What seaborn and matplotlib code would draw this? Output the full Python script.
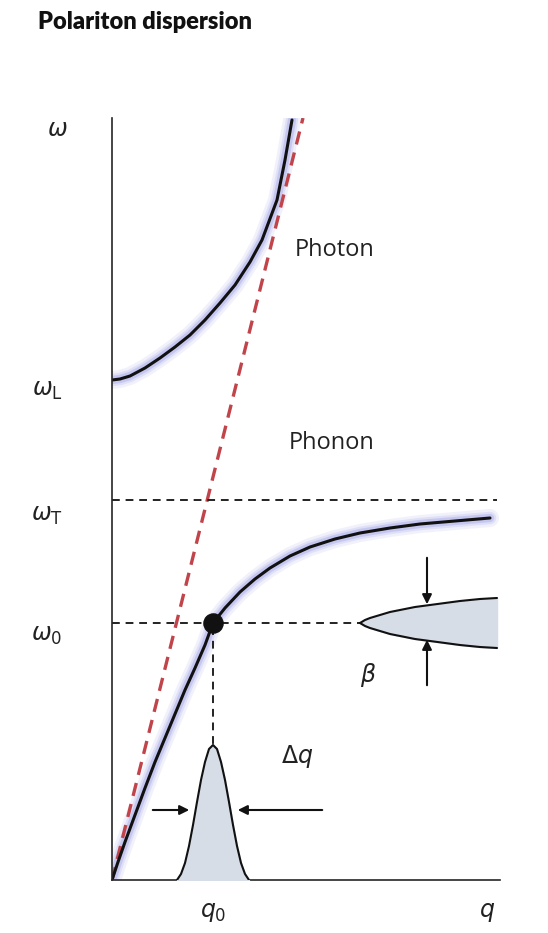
import matplotlib
matplotlib.use("Agg")
import matplotlib.pyplot as plt
import numpy as np
import pandas as pd
import seaborn as sns

sns.set_style("white")
plt.rcParams['font.family'] = ['Open Sans', 'DejaVu Sans']
plt.rcParams['mathtext.fontset'] = 'dejavusans'

# data (x = q, y = omega, arbitrary units)
upper_q = [0, 8, 18, 33, 48, 63, 78, 93, 108, 123, 138, 150, 165, 173, 180]
upper_w = [500, 501, 504, 512, 522, 533, 545, 560, 577, 595, 618, 640, 680, 720, 760]
lower_q = [0, 6, 13, 23, 33, 43, 53, 63, 73, 83, 93, 101, 113, 128, 143, 158,
           178, 198, 223, 248, 278, 308, 343, 378]
lower_w = [0, 18, 38, 65, 92, 118, 142, 166, 190, 212, 235, 257, 272, 288, 301, 312,
           324, 333, 341, 347, 352, 356, 359, 362]
photon_q = [0, 191]
photon_w = [0, 762]
w_L, w_T, w_0, q_0 = 500, 380, 257, 101
# wavepacket in q (offset from q0, height)
dq_off = [-36, -32, -28, -24, -20, -16, -12, -8, -4, 0, 4, 8, 12, 16, 20, 24, 28, 32, 36]
dq_h = [0, 6, 17, 34, 55, 78, 100, 118, 131, 135, 131, 118, 100, 78, 55, 34, 17, 6, 0]
# linewidth beta (offset from tip, half-width)
b_off = [0, 5, 10, 20, 30, 40, 55, 70, 85, 100, 120, 137]
b_hw = [0, 3, 5, 8, 11, 13, 16, 18, 20, 22, 24, 25]

fig = plt.figure(figsize=(5.48, 9.33), dpi=100)
ax = fig.add_axes([112/548, 53/933, 388/548, 762/933])
ax.set_xlim(0, 388)
ax.set_ylim(0, 762)

up = pd.DataFrame({"q": upper_q, "w": upper_w})
lo = pd.DataFrame({"q": lower_q, "w": lower_w})
for d in (up, lo):
    for lw, a in [(13, 0.10), (9, 0.15), (6, 0.25)]:
        sns.lineplot(data=d, x="q", y="w", ax=ax, color="#7a7fe0", lw=lw, alpha=a,
                     sort=False, solid_capstyle="round")
sns.lineplot(x=photon_q, y=photon_w, ax=ax, color="#c0444a", lw=2.4, sort=False)
ax.lines[-1].set_linestyle((0, (4, 2.5)))
sns.lineplot(data=up, x="q", y="w", ax=ax, color="#111111", lw=2.2, sort=False)
sns.lineplot(data=lo, x="q", y="w", ax=ax, color="#111111", lw=2.2, sort=False)

ax.plot([0, 385], [w_T, w_T], color="#222222", lw=1.4, ls=(0, (4, 3)))
ax.plot([0, 385], [w_0, w_0], color="#222222", lw=1.4, ls=(0, (4, 3)))
ax.plot([q_0, q_0], [0, w_0], color="#222222", lw=1.4, ls=(0, (4, 3)))
ax.scatter([q_0], [w_0], s=190, color="#111111", zorder=5)

# q wavepacket
gx = np.array(dq_off) + q_0
ax.fill_between(gx, 0, dq_h, color="#d6dde6", zorder=3)
ax.plot(gx, dq_h, color="#111111", lw=1.5, zorder=4)
# beta lineshape
bx = np.array(b_off) + 248
ax.fill_between(bx, w_0 - np.array(b_hw), w_0 + np.array(b_hw), color="#d6dde6", zorder=3)
ax.plot(bx, w_0 + np.array(b_hw), color="#111111", lw=1.5, zorder=4)
ax.plot(bx, w_0 - np.array(b_hw), color="#111111", lw=1.5, zorder=4)

arr = dict(arrowstyle="-|>", color="#111111", lw=1.5, mutation_scale=14)
ax.annotate("", xy=(80, 70), xytext=(38, 70), arrowprops=arr)
ax.annotate("", xy=(123, 70), xytext=(213, 70), arrowprops=arr)
ax.annotate("", xy=(315, 273), xytext=(315, 325), arrowprops=arr)
ax.annotate("", xy=(315, 243), xytext=(315, 192), arrowprops=arr)

sns.despine(ax=ax, right=True, top=True)
ax.spines['left'].set_linewidth(1.2)
ax.spines['bottom'].set_linewidth(1.2)
ax.set_xticks([])
ax.set_yticks([])
ax.set_xlabel("")
ax.set_ylabel("")

fs = 17
kw = dict(fontsize=fs, ha="center", va="center", color="#222222", clip_on=False)
ax.text(-55, 750, r"$\omega$", **kw)
ax.text(-65, 490, r"$\omega_\mathrm{L}$", **kw)
ax.text(-65, 365, r"$\omega_\mathrm{T}$", **kw)
ax.text(-65, 245, r"$\omega_\mathrm{0}$", **kw)
ax.text(q_0, -32, r"$q_\mathrm{0}$", **kw)
ax.text(375, -32, r"$q$", **kw)
ax.text(223, 630, "Photon", **kw)
ax.text(220, 437, "Phonon", **kw)
ax.text(256, 205, r"$\beta$", **kw)
ax.text(185, 123, r"$\Delta q$", **kw)

fig.text(38/548, 1 - 22/933, "Polariton dispersion", fontsize=17, fontweight="heavy",
         family=["Lato", "DejaVu Sans"], ha="left", va="center", color="#111111")

fig.savefig("out.png", dpi=100)
